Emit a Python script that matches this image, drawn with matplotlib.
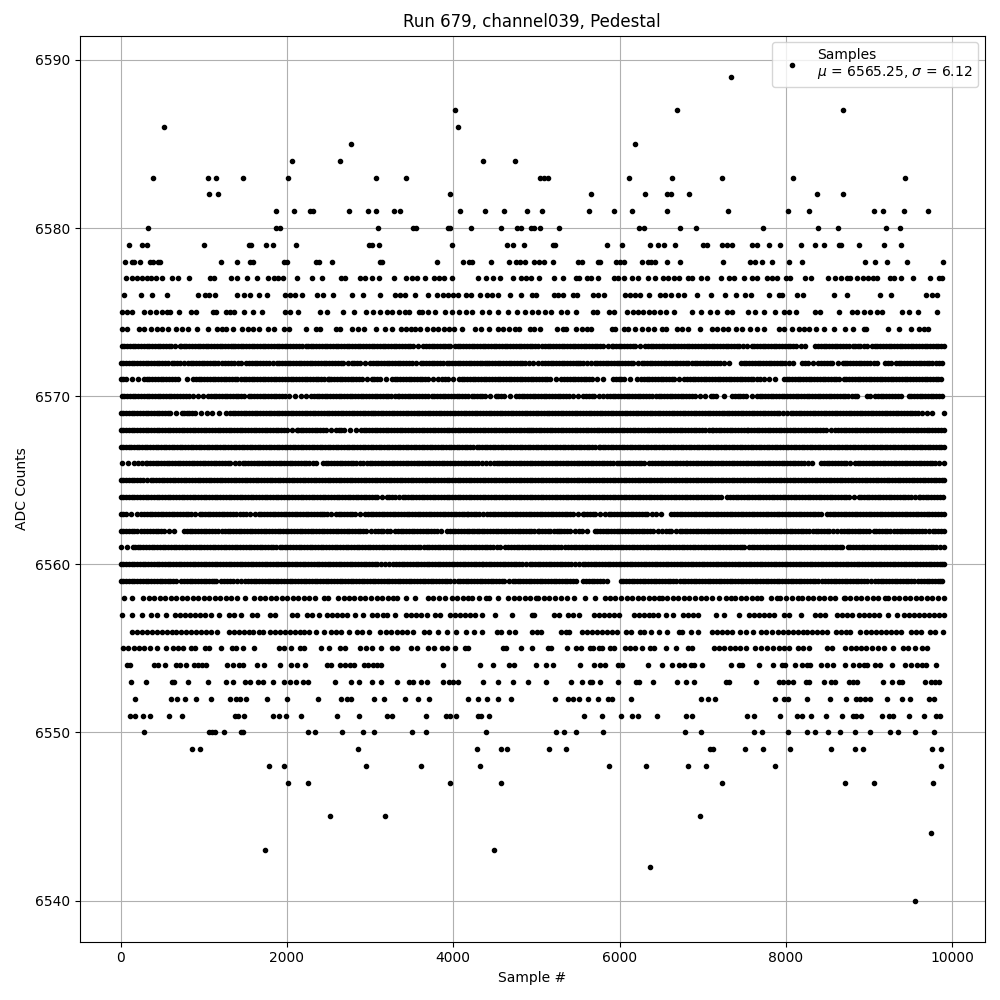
import numpy as np
import matplotlib
matplotlib.use("Agg")
import matplotlib.pyplot as plt

title = "Run 679, channel039, Pedestal"
x_label = "Sample #"
y_label = "ADC Counts"
legend_label = "Samples\n$\\mu$ = 6565.25, $\\sigma$ = 6.12"

s6540 = [9552]
s6542 = [6360]
s6543 = [1736, 4484]
s6544 = [9744]
s6545 = [2516, 3176, 6972]
s6547 = [2012, 2252, 3956, 4568, 7236, 8712, 9060, 9768]
s6548 = [1784, 1964, 2948, 3608, 4316, 5868, 6312, 6828, 7044, 7872, 9864]
s6549 = [860, 956, 2852, 4280, 4580, 4652, 5148, 5352, 7092, 7128, 7512, 7728, 8052, 8544, 8832, 8928, 9756, 9864]
s6550 = [284, 1064, 1100, 1136, 1244, 1448, 1472, 2252, 2336, 2660, 2912, 3044, 3500, 3668, 4388, 5232, 5328, 5472, 5796, 6792, 6984, 7620, 7716, 8028, 8256, 8352, 8508, 8652, 8832, 9012, 9252, 9348, 9552, 9780]
s6551 = [116, 176, 272, 356, 584, 740, 1376, 1412, 1484, 1832, 1904, 1988, 2168, 2600, 2864, 3200, 3260, 3668, 3908, 3956, 4028, 4292, 4328, 4424, 5568, 5784, 6012, 6144, 6216, 6456, 6804, 6876, 7536, 7620, 7932, 8136, 8196, 8304, 8484, 8676, 8808, 8844, 8904, 9156, 9240, 9288, 9480, 9660, 9804, 9852]
s6552 = [176, 608, 680, 776, 908, 1088, 1316, 1388, 1436, 1508, 1760, 2000, 2372, 2648, 2720, 2768, 3044, 3164, 3416, 3572, 3704, 4172, 4292, 4400, 4532, 4700, 5220, 5376, 5436, 5508, 5616, 5736, 5856, 5904, 6132, 6984, 7068, 7152, 7872, 7980, 8028, 8256, 8532, 8724, 8844, 8892, 8952, 9012, 9216, 9396, 9492, 9720, 9780]
s6553 = [128, 308, 620, 644, 812, 1052, 1268, 1352, 1496, 1556, 1652, 1712, 1832, 1964, 2036, 2108, 2192, 2252, 2576, 2768, 2864, 3020, 3128, 3320, 3464, 3512, 3608, 3680, 3872, 3944, 3992, 4052, 4352, 4532, 4724, 4904, 5112, 5412, 5544, 5640, 5664, 5760, 5976, 6192, 6228, 6408, 6696, 6804, 6900, 7284, 7320, 7644, 7920, 7968, 8028, 8088, 8244, 8280, 8460, 8544, 8592, 8760, 8808, 8856, 9168, 9276, 9360, 9396, 9672, 9744, 9792, 9840]
s6554 = [80, 116, 404, 452, 536, 668, 716, 788, 884, 932, 980, 1028, 1280, 1352, 1424, 1472, 1640, 1724, 1916, 2048, 2120, 2216, 2480, 2528, 2636, 2696, 2756, 2804, 2924, 2972, 3032, 3080, 3128, 3872, 4316, 4472, 4676, 4736, 5000, 5112, 5196, 5520, 5688, 5760, 5820, 5976, 6024, 6336, 6516, 6636, 6720, 6780, 6864, 6900, 6996, 7344, 7440, 7476, 7680, 7848, 7956, 7992, 8112, 8196, 8256, 8292, 8424, 8496, 8568, 8712, 8808, 8880, 8940, 8976, 9072, 9132, 9276, 9432, 9504, 9576, 9636, 9684, 9804]
s6555 = [32, 92, 164, 224, 284, 356, 440, 548, 632, 692, 752, 848, 896, 1016, 1064, 1208, 1340, 1388, 1472, 1604, 1904, 1964, 2048, 2156, 2204, 2408, 2504, 2636, 2696, 2876, 2948, 3020, 3128, 3260, 3320, 3488, 3560, 3692, 3764, 3860, 3920, 4016, 4136, 4172, 4604, 4640, 4820, 4944, 5136, 5172, 5364, 5472, 5532, 5640, 5676, 5748, 5784, 5880, 5928, 6060, 6120, 6180, 6264, 6360, 6420, 6564, 6680, 6828, 6876, 7140, 7200, 7260, 7332, 7392, 7452, 7524, 7632, 7704, 7776, 7848, 7920, 7980, 8040, 8148, 8208, 8280, 8496, 8556, 8712, 8784, 8844, 8904, 8964, 9036, 9108, 9180, 9288, 9408, 9468, 9552, 9636, 9696]
s6556 = [140, 200, 260, 320, 380, 440, 500, 560, 620, 668, 728, 788, 848, 908, 968, 1028, 1088, 1160, 1304, 1364, 1424, 1484, 1544, 1592, 1664, 1712, 1796, 1856, 1916, 1976, 2036, 2096, 2156, 2204, 2264, 2348, 2444, 2528, 2588, 2648, 2744, 2840, 2900, 2984, 3116, 3188, 3248, 3320, 3380, 3440, 3512, 3644, 3704, 3812, 3920, 4028, 4148, 4244, 4340, 4520, 4580, 4676, 4748, 4944, 5004, 5052, 5292, 5352, 5388, 5544, 5604, 5664, 5724, 5784, 5844, 5904, 5964, 6072, 6132, 6240, 6288, 6384, 6480, 6576, 6720, 6756, 6864, 6948, 7116, 7176, 7236, 7296, 7356, 7452, 7524, 7608, 7704, 7764, 7836, 7908, 7968, 8028, 8088, 8148, 8208, 8256, 8316, 8376, 8436, 8496, 8604, 8664, 8724, 8772, 8892, 8964, 9024, 9084, 9144, 9204, 9264, 9324, 9384, 9504, 9564, 9624, 9732, 9792, 9888]
s6557 = [20, 140, 260, 368, 440, 548, 656, 716, 776, 836, 896, 956, 1016, 1088, 1184, 1304, 1364, 1448, 1580, 1640, 1796, 1856, 2060, 2120, 2240, 2300, 2384, 2480, 2540, 2600, 2660, 2720, 2816, 2912, 3020, 3080, 3152, 3200, 3296, 3428, 3488, 3548, 3608, 3680, 3776, 3836, 3956, 4016, 4076, 4136, 4196, 4256, 4340, 4496, 4712, 4952, 4968, 5208, 5268, 5376, 5436, 5508, 5688, 5748, 5808, 5868, 5928, 5988, 6168, 6228, 6288, 6348, 6408, 6468, 6564, 6648, 6768, 6828, 6888, 6948, 7164, 7260, 7440, 7560, 7620, 7680, 7740, 7800, 7860, 7980, 8040, 8184, 8352, 8412, 8472, 8616, 8676, 8736, 8796, 8880, 8940, 9000, 9060, 9120, 9228, 9336, 9420, 9480, 9540, 9600, 9660, 9720, 9780, 9840, 9900]
s6558 = [40, 140, 272, 340, 405, 470, 538, 604, 668, 736, 800, 866, 934, 1000, 1068, 1132, 1200, 1266, 1332, 1398, 1500, 1604, 1670, 1738, 1804, 1870, 1936, 2004, 2070, 2136, 2204, 2270, 2336, 2444, 2492, 2612, 2680, 2744, 2812, 2878, 2944, 3010, 3078, 3144, 3210, 3280, 3320, 3428, 3540, 3692, 3760, 3830, 3900, 3980, 4048, 4114, 4180, 4220, 4304, 4388, 4428, 4540, 4660, 4728, 4794, 4860, 4926, 4990, 5020, 5088, 5156, 5224, 5290, 5364, 5456, 5588, 5708, 5828, 5884, 5950, 6016, 6084, 6150, 6216, 6284, 6350, 6416, 6476, 6508, 6574, 6640, 6708, 6774, 6840, 6906, 6974, 7040, 7106, 7196, 7276, 7336, 7388, 7456, 7524, 7590, 7656, 7704, 7816, 7896, 7924, 8004, 8076, 8148, 8196, 8264, 8330, 8396, 8464, 8530, 8596, 8696, 8708, 8776, 8842, 8908, 8976, 9042, 9108, 9196, 9228, 9296, 9362, 9428, 9496, 9562, 9628, 9696, 9762, 9828, 9900]
s6559 = [0, 66, 132, 198, 266, 332, 398, 468, 500, 566, 632, 720, 764, 830, 896, 964, 1030, 1096, 1148, 1212, 1280, 1346, 1452, 1500, 1566, 1632, 1700, 1766, 1832, 1898, 1966, 2032, 2098, 2166, 2232, 2298, 2364, 2432, 2498, 2564, 2632, 2698, 2764, 2830, 2898, 2964, 3030, 3098, 3164, 3230, 3296, 3364, 3430, 3496, 3564, 3630, 3696, 3762, 3830, 3896, 3962, 4060, 4084, 4150, 4216, 4284, 4350, 4416, 4482, 4550, 4616, 4720, 4740, 4806, 4872, 4940, 5006, 5072, 5140, 5206, 5272, 5338, 5406, 5476, 5564, 5630, 5696, 5764, 5844, 6012, 6078, 6144, 6212, 6278, 6344, 6410, 6478, 6544, 6610, 6676, 6724, 6790, 6858, 6924, 6990, 7058, 7124, 7190, 7256, 7324, 7390, 7456, 7524, 7590, 7656, 7722, 7790, 7856, 7922, 7990, 8056, 8122, 8188, 8256, 8322, 8388, 8476, 8508, 8574, 8640, 8708, 8774, 8840, 8906, 8974, 9076, 9108, 9174, 9240, 9308, 9374, 9440, 9506, 9588, 9628, 9694, 9760, 9828, 9876]
s6560 = [0, 66, 132, 198, 264, 332, 398, 464, 530, 598, 664, 730, 798, 864, 930, 996, 1064, 1130, 1196, 1264, 1330, 1396, 1462, 1530, 1596, 1662, 1730, 1796, 1862, 1928, 1996, 2062, 2120, 2156, 2222, 2288, 2356, 2422, 2488, 2556, 2622, 2688, 2754, 2822, 2888, 2954, 3022, 3088, 3180, 3228, 3280, 3346, 3412, 3480, 3546, 3612, 3680, 3746, 3812, 3878, 3946, 4012, 4078, 4146, 4212, 4278, 4340, 4360, 4426, 4492, 4560, 4626, 4692, 4760, 4826, 4920, 4948, 5014, 5080, 5148, 5214, 5280, 5346, 5414, 5516, 5556, 5622, 5688, 5756, 5822, 5888, 5956, 6022, 6088, 6154, 6222, 6288, 6354, 6422, 6488, 6554, 6620, 6688, 6754, 6820, 6888, 6954, 7020, 7086, 7154, 7220, 7286, 7354, 7420, 7486, 7552, 7620, 7686, 7752, 7820, 7886, 7952, 8018, 8086, 8152, 8218, 8286, 8352, 8418, 8484, 8552, 8618, 8684, 8752, 8818, 8884, 8950, 9018, 9084, 9150, 9218, 9284, 9350, 9416, 9484, 9550, 9616, 9684, 9750, 9816, 9882, 9900]
s6561 = [0, 148, 172, 238, 304, 372, 438, 504, 570, 638, 704, 770, 828, 872, 938, 1004, 1072, 1138, 1204, 1270, 1338, 1404, 1470, 1538, 1604, 1670, 1736, 1804, 1870, 1912, 1940, 2006, 2072, 2140, 2206, 2272, 2340, 2406, 2472, 2538, 2606, 2672, 2738, 2806, 2872, 2938, 3004, 3072, 3138, 3204, 3272, 3338, 3404, 3470, 3538, 3604, 3680, 3712, 3778, 3844, 3912, 3978, 4044, 4112, 4178, 4244, 4310, 4378, 4444, 4520, 4560, 4628, 4694, 4762, 4828, 4894, 4960, 5028, 5094, 5160, 5228, 5296, 5348, 5414, 5480, 5548, 5614, 5680, 5746, 5814, 5880, 5946, 6014, 6080, 6146, 6212, 6280, 6346, 6412, 6480, 6546, 6612, 6678, 6746, 6812, 6878, 6946, 7012, 7078, 7144, 7212, 7278, 7344, 7412, 7476, 7496, 7556, 7622, 7688, 7756, 7822, 7888, 7954, 8022, 8088, 8154, 8222, 8288, 8354, 8420, 8488, 8554, 8620, 8676, 8744, 8810, 8876, 8944, 9010, 9076, 9142, 9210, 9276, 9342, 9410, 9476, 9542, 9608, 9676, 9742, 9808, 9896]
s6562 = [0, 66, 132, 198, 280, 320, 386, 452, 520, 640, 764, 830, 896, 964, 1030, 1096, 1172, 1220, 1286, 1352, 1420, 1486, 1552, 1618, 1686, 1752, 1818, 1886, 1952, 2018, 2084, 2152, 2218, 2284, 2352, 2418, 2484, 2550, 2618, 2684, 2750, 2818, 2884, 2950, 3060, 3092, 3158, 3240, 3300, 3366, 3432, 3500, 3566, 3632, 3700, 3766, 3852, 3920, 3960, 4026, 4092, 4160, 4226, 4280, 4308, 4374, 4440, 4508, 4574, 4640, 4706, 4774, 4840, 4906, 4974, 5016, 5036, 5102, 5168, 5244, 5268, 5334, 5400, 5516, 5544, 5610, 5708, 5732, 5798, 5864, 5932, 5998, 6064, 6132, 6198, 6264, 6330, 6398, 6516, 6556, 6622, 6724, 6748, 6814, 6880, 6948, 7014, 7080, 7146, 7214, 7280, 7346, 7414, 7480, 7546, 7612, 7680, 7746, 7812, 7880, 7946, 8012, 8078, 8146, 8212, 8284, 8324, 8390, 8456, 8524, 8616, 8664, 8730, 8796, 8864, 8930, 9004, 9056, 9122, 9188, 9256, 9336, 9368, 9434, 9500, 9568, 9634, 9724, 9764, 9830, 9900]
s6563 = [0, 66, 192, 248, 314, 380, 448, 514, 580, 646, 714, 780, 846, 948, 980, 1046, 1112, 1180, 1246, 1312, 1388, 1436, 1502, 1620, 1660, 1726, 1792, 1860, 1926, 1992, 2060, 2126, 2192, 2258, 2326, 2400, 2416, 2482, 2588, 2620, 2686, 2752, 2820, 2940, 2972, 3038, 3104, 3172, 3238, 3304, 3372, 3438, 3504, 3570, 3638, 3704, 3770, 3838, 3904, 3970, 4036, 4104, 4160, 4180, 4246, 4312, 4400, 4440, 4506, 4572, 4640, 4706, 4772, 4838, 4906, 4972, 5038, 5106, 5172, 5238, 5304, 5372, 5438, 5556, 5576, 5642, 5708, 5828, 5868, 5934, 6000, 6068, 6134, 6200, 6268, 6334, 6444, 6496, 6624, 6690, 6756, 6824, 6890, 6956, 7022, 7090, 7156, 7222, 7290, 7356, 7422, 7488, 7556, 7622, 7688, 7756, 7822, 7888, 7954, 8022, 8088, 8154, 8222, 8288, 8354, 8428, 8496, 8562, 8628, 8696, 8762, 8828, 8894, 8962, 9028, 9094, 9162, 9228, 9294, 9360, 9428, 9494, 9560, 9628, 9694, 9760, 9826, 9900]
s6564 = [0, 66, 132, 198, 266, 332, 398, 466, 532, 598, 664, 732, 798, 864, 932, 998, 1064, 1130, 1198, 1264, 1330, 1398, 1464, 1530, 1596, 1664, 1730, 1796, 1864, 1930, 1996, 2062, 2130, 2196, 2262, 2330, 2396, 2462, 2528, 2596, 2662, 2728, 2796, 2860, 2888, 2954, 3020, 3088, 3200, 3232, 3298, 3400, 3420, 3486, 3552, 3620, 3686, 3752, 3820, 3886, 3952, 4018, 4086, 4152, 4218, 4286, 4352, 4418, 4484, 4552, 4618, 4684, 4752, 4818, 4884, 4950, 5018, 5084, 5150, 5218, 5284, 5350, 5416, 5484, 5550, 5616, 5684, 5750, 5816, 5882, 5950, 6016, 6082, 6150, 6216, 6282, 6348, 6416, 6482, 6548, 6616, 6682, 6748, 6814, 6882, 6948, 7014, 7082, 7148, 7216, 7296, 7362, 7428, 7496, 7562, 7628, 7694, 7762, 7828, 7894, 7962, 8028, 8094, 8160, 8228, 8294, 8360, 8428, 8494, 8560, 8626, 8694, 8760, 8876, 8904, 8970, 9036, 9104, 9170, 9236, 9304, 9370, 9436, 9502, 9596, 9616, 9682, 9748, 9816, 9884]
s6565 = [0, 66, 132, 198, 264, 360, 392, 458, 524, 592, 658, 724, 790, 858, 924, 990, 1058, 1124, 1190, 1256, 1324, 1390, 1456, 1524, 1590, 1656, 1722, 1790, 1856, 1922, 1990, 2056, 2122, 2188, 2256, 2322, 2388, 2456, 2522, 2588, 2654, 2722, 2788, 2854, 2922, 2988, 3054, 3120, 3188, 3254, 3320, 3388, 3454, 3520, 3586, 3654, 3720, 3786, 3854, 3920, 3986, 4052, 4120, 4186, 4252, 4320, 4386, 4452, 4518, 4586, 4652, 4718, 4786, 4852, 4918, 4984, 5052, 5118, 5184, 5252, 5318, 5384, 5450, 5518, 5584, 5650, 5718, 5784, 5850, 5916, 5984, 6050, 6116, 6184, 6250, 6316, 6382, 6450, 6516, 6582, 6650, 6716, 6782, 6848, 6916, 6982, 7048, 7116, 7182, 7248, 7314, 7382, 7448, 7514, 7582, 7648, 7714, 7780, 7848, 7914, 7980, 8048, 8114, 8180, 8246, 8314, 8380, 8446, 8514, 8580, 8646, 8712, 8780, 8846, 8912, 8980, 9046, 9112, 9178, 9246, 9312, 9378, 9446, 9512, 9578, 9644, 9712, 9778, 9844, 9900]
s6566 = [20, 160, 212, 300, 320, 386, 452, 520, 586, 652, 718, 786, 852, 918, 986, 1052, 1118, 1184, 1252, 1318, 1420, 1468, 1534, 1600, 1668, 1734, 1800, 1868, 1934, 2000, 2066, 2134, 2200, 2266, 2348, 2432, 2498, 2564, 2632, 2698, 2764, 2830, 2920, 2960, 3026, 3092, 3160, 3226, 3292, 3360, 3426, 3492, 3558, 3626, 3692, 3758, 3826, 3892, 3958, 4024, 4092, 4158, 4224, 4292, 4388, 4440, 4492, 4520, 4586, 4652, 4720, 4786, 4852, 4918, 4986, 5052, 5118, 5186, 5252, 5318, 5384, 5452, 5518, 5584, 5652, 5718, 5784, 5850, 5924, 5964, 6030, 6096, 6164, 6230, 6296, 6356, 6396, 6462, 6528, 6596, 6662, 6728, 6804, 6816, 6882, 6948, 7016, 7082, 7148, 7214, 7282, 7348, 7414, 7482, 7548, 7614, 7680, 7748, 7814, 7880, 7948, 8014, 8080, 8146, 8214, 8316, 8424, 8490, 8556, 8624, 8696, 8724, 8828, 8864, 8930, 8996, 9064, 9130, 9196, 9262, 9330, 9396, 9462, 9530, 9596, 9662, 9728, 9796, 9896]
s6567 = [0, 64, 128, 194, 258, 322, 388, 452, 516, 582, 646, 710, 776, 840, 904, 970, 1034, 1098, 1164, 1228, 1292, 1358, 1422, 1486, 1552, 1616, 1680, 1746, 1810, 1874, 1940, 2004, 2068, 2134, 2198, 2262, 2328, 2392, 2456, 2522, 2586, 2650, 2716, 2780, 2844, 2910, 2974, 3038, 3104, 3168, 3232, 3298, 3362, 3426, 3492, 3556, 3620, 3686, 3750, 3814, 3880, 3944, 4008, 4074, 4138, 4202, 4280, 4312, 4378, 4442, 4506, 4572, 4636, 4700, 4766, 4830, 4894, 4960, 5024, 5088, 5154, 5218, 5282, 5348, 5412, 5476, 5542, 5606, 5670, 5748, 5764, 5830, 5894, 5958, 6024, 6088, 6152, 6218, 6282, 6346, 6412, 6476, 6540, 6606, 6670, 6734, 6800, 6864, 6928, 6994, 7058, 7122, 7188, 7252, 7316, 7382, 7446, 7510, 7576, 7640, 7704, 7770, 7834, 7898, 7964, 8028, 8092, 8158, 8222, 8286, 8352, 8416, 8480, 8546, 8610, 8674, 8740, 8804, 8868, 8934, 8998, 9062, 9136, 9156, 9222, 9286, 9350, 9416, 9480, 9544, 9610, 9674, 9738, 9804, 9868, 9900]
s6568 = [0, 66, 132, 200, 266, 332, 398, 466, 532, 598, 666, 732, 798, 864, 932, 998, 1064, 1132, 1198, 1264, 1330, 1398, 1464, 1530, 1598, 1664, 1730, 1796, 1864, 1930, 1996, 2120, 2132, 2198, 2264, 2332, 2398, 2464, 2588, 2620, 2686, 2828, 2888, 2954, 3020, 3088, 3154, 3220, 3286, 3354, 3420, 3486, 3554, 3620, 3686, 3752, 3820, 3886, 3952, 4020, 4086, 4152, 4218, 4286, 4352, 4418, 4486, 4552, 4618, 4684, 4752, 4818, 4884, 4940, 4960, 5026, 5092, 5160, 5226, 5292, 5358, 5426, 5492, 5558, 5626, 5692, 5758, 5824, 5892, 5958, 6024, 6092, 6158, 6224, 6290, 6358, 6424, 6490, 6558, 6624, 6690, 6756, 6824, 6890, 6956, 7024, 7116, 7124, 7190, 7256, 7324, 7390, 7456, 7536, 7548, 7614, 7680, 7748, 7814, 7880, 7946, 8014, 8080, 8146, 8214, 8280, 8346, 8412, 8480, 8596, 8628, 8694, 8760, 8828, 8894, 8960, 9026, 9094, 9160, 9226, 9294, 9360, 9426, 9492, 9560, 9626, 9692, 9760, 9826, 9900]
s6569 = [0, 66, 132, 198, 266, 332, 398, 466, 532, 598, 732, 760, 826, 892, 1040, 1100, 1268, 1312, 1378, 1444, 1512, 1578, 1644, 1712, 1778, 1844, 1910, 1978, 2044, 2110, 2178, 2244, 2310, 2376, 2444, 2510, 2576, 2644, 2710, 2776, 2842, 2910, 2976, 3040, 3060, 3126, 3192, 3260, 3326, 3392, 3460, 3526, 3592, 3658, 3726, 3792, 3858, 3926, 3992, 4058, 4124, 4192, 4258, 4324, 4392, 4458, 4524, 4590, 4658, 4724, 4790, 4858, 4924, 4990, 5056, 5124, 5190, 5256, 5324, 5396, 5428, 5494, 5560, 5628, 5694, 5760, 5826, 5894, 5960, 6026, 6094, 6160, 6226, 6292, 6360, 6426, 6492, 6560, 6626, 6692, 6758, 6826, 6892, 6958, 7026, 7092, 7158, 7236, 7256, 7322, 7388, 7456, 7522, 7588, 7654, 7722, 7788, 7854, 7922, 8016, 8056, 8122, 8188, 8256, 8322, 8388, 8454, 8522, 8588, 8654, 8722, 8788, 8854, 8920, 8988, 9054, 9120, 9188, 9254, 9320, 9386, 9454, 9520, 9586, 9696, 9756, 9896]
s6570 = [12, 78, 144, 212, 278, 344, 412, 478, 544, 610, 678, 744, 820, 868, 1052, 1084, 1150, 1216, 1284, 1350, 1416, 1484, 1540, 1606, 1672, 1740, 1806, 1872, 1938, 2020, 2100, 2228, 2292, 2360, 2388, 2454, 2520, 2588, 2654, 2720, 2786, 2854, 2920, 2986, 3054, 3120, 3186, 3252, 3340, 3352, 3418, 3484, 3552, 3618, 3700, 3740, 3806, 3872, 3940, 4006, 4072, 4138, 4220, 4252, 4318, 4384, 4508, 4540, 4606, 4760, 4788, 4854, 4920, 4988, 5054, 5120, 5186, 5254, 5320, 5386, 5496, 5564, 5630, 5696, 5804, 5852, 5918, 5984, 6052, 6118, 6184, 6250, 6318, 6388, 6436, 6502, 6568, 6636, 6702, 6768, 6834, 6902, 7028, 7096, 7162, 7356, 7388, 7454, 7520, 7656, 7684, 7750, 7816, 7884, 7950, 8016, 8082, 8150, 8216, 8282, 8350, 8416, 8482, 8548, 8616, 8682, 8748, 8836, 8856, 8976, 9016, 9076, 9108, 9174, 9240, 9308, 9380, 9476, 9542, 9608, 9676, 9742, 9808, 9876]
s6571 = [0, 66, 212, 280, 346, 412, 480, 546, 612, 692, 800, 872, 938, 1004, 1072, 1138, 1204, 1270, 1338, 1404, 1480, 1508, 1574, 1640, 1708, 1774, 1840, 1906, 1972, 2012, 2078, 2144, 2212, 2278, 2344, 2410, 2492, 2500, 2566, 2632, 2700, 2766, 2832, 2898, 3028, 3052, 3118, 3268, 3296, 3362, 3428, 3496, 3562, 3628, 3694, 3820, 3868, 3934, 4068, 4100, 4166, 4232, 4300, 4366, 4432, 4498, 4566, 4632, 4698, 4766, 4832, 4898, 4964, 5032, 5098, 5164, 5296, 5336, 5402, 5468, 5536, 5602, 5668, 5796, 5924, 5990, 6056, 6204, 6260, 6326, 6392, 6460, 6526, 6592, 6658, 6780, 6812, 6878, 6944, 7012, 7078, 7144, 7212, 7278, 7344, 7410, 7478, 7544, 7610, 7688, 7736, 7868, 7976, 8042, 8108, 8176, 8242, 8308, 8374, 8442, 8508, 8574, 8636, 8696, 8762, 8828, 8896, 8962, 9028, 9096, 9162, 9228, 9294, 9362, 9428, 9494, 9560, 9636, 9668, 9734, 9800, 9860]
s6572 = [0, 66, 132, 200, 266, 332, 400, 466, 532, 612, 644, 710, 804, 840, 906, 972, 1040, 1106, 1172, 1260, 1292, 1358, 1452, 1512, 1578, 1644, 1712, 1778, 1880, 1908, 1974, 2040, 2108, 2174, 2240, 2306, 2374, 2440, 2506, 2580, 2612, 2678, 2788, 2812, 2878, 3000, 3032, 3098, 3164, 3232, 3298, 3364, 3430, 3498, 3612, 3640, 3706, 3772, 3840, 3920, 3986, 4052, 4120, 4186, 4252, 4318, 4380, 4400, 4466, 4532, 4600, 4666, 4732, 4798, 4866, 4960, 5020, 5070, 5136, 5204, 5270, 5336, 5402, 5476, 5496, 5562, 5656, 5700, 5766, 5832, 5900, 5966, 6032, 6098, 6166, 6268, 6296, 6362, 6428, 6496, 6562, 6628, 6694, 6762, 6828, 6908, 6936, 7002, 7068, 7136, 7202, 7316, 7460, 7526, 7592, 7660, 7726, 7792, 7858, 7926, 7992, 8084, 8196, 8262, 8384, 8428, 8494, 8560, 8684, 8708, 8774, 8840, 8908, 8974, 9056, 9096, 9196, 9268, 9324, 9390, 9456, 9524, 9596, 9628, 9694, 9760, 9844, 9876]
s6573 = [12, 78, 144, 212, 278, 344, 412, 478, 544, 610, 708, 724, 790, 856, 924, 990, 1056, 1122, 1190, 1256, 1322, 1380, 1408, 1474, 1540, 1608, 1674, 1740, 1806, 1874, 1940, 2006, 2074, 2140, 2228, 2252, 2318, 2384, 2452, 2518, 2584, 2650, 2718, 2784, 2850, 2918, 2984, 3050, 3116, 3184, 3250, 3316, 3384, 3450, 3520, 3572, 3640, 3706, 3772, 3840, 3906, 3960, 4020, 4086, 4152, 4220, 4286, 4352, 4418, 4486, 4552, 4618, 4686, 4752, 4818, 4884, 4952, 5020, 5104, 5136, 5202, 5268, 5336, 5402, 5468, 5534, 5602, 5668, 5734, 5802, 5908, 5924, 5990, 6056, 6124, 6190, 6308, 6340, 6406, 6472, 6540, 6606, 6672, 6738, 6806, 6872, 6938, 7016, 7042, 7108, 7174, 7242, 7308, 7374, 7440, 7536, 7588, 7654, 7720, 7788, 7854, 7920, 7986, 8054, 8120, 8236, 8348, 8388, 8454, 8520, 8588, 8654, 8720, 8804, 8830, 8896, 8976, 9036, 9102, 9168, 9236, 9302, 9368, 9434, 9502, 9568, 9634, 9702, 9768, 9834, 9896]
s6574 = [20, 80, 220, 284, 368, 440, 500, 572, 668, 740, 812, 920, 1052, 1160, 1220, 1268, 1352, 1460, 1532, 1592, 1664, 1772, 1844, 1964, 2024, 2228, 2348, 2396, 2588, 2636, 2780, 2852, 2924, 3068, 3176, 3260, 3368, 3428, 3488, 3536, 3596, 3680, 3752, 3812, 3884, 3944, 4004, 4100, 4256, 4328, 4424, 4532, 4604, 4676, 4748, 4796, 4928, 4968, 5040, 5244, 5316, 5352, 5472, 5544, 5604, 5652, 5904, 5940, 6048, 6096, 6180, 6264, 6336, 6420, 6516, 6564, 6696, 6756, 6828, 6972, 7116, 7176, 7248, 7308, 7404, 7476, 7572, 7656, 7740, 7920, 7980, 8076, 8160, 8220, 8280, 8364, 8460, 8580, 8712, 8808, 8940, 8964, 9228, 9360, 9504, 9600, 9660, 9708]
s6575 = [20, 80, 140, 284, 356, 428, 500, 560, 596, 704, 848, 908, 1112, 1148, 1268, 1316, 1364, 1484, 1592, 1700, 1976, 2036, 2132, 2396, 2480, 2672, 2804, 2948, 3032, 3116, 3200, 3260, 3344, 3416, 3464, 3584, 3620, 3692, 3776, 3896, 3980, 4064, 4148, 4220, 4340, 4424, 4532, 4664, 4772, 4868, 4944, 5016, 5100, 5172, 5292, 5364, 5472, 5676, 5724, 5868, 5928, 6084, 6156, 6216, 6276, 6348, 6420, 6492, 6564, 6660, 6876, 6984, 7092, 7176, 7296, 7356, 7548, 7632, 7740, 7872, 7980, 8040, 8124, 8352, 8412, 8640, 8796, 8856, 8940, 9012, 9096, 9156, 9396, 9480, 9588, 9816]
s6576 = [44, 248, 380, 552, 932, 1016, 1064, 1136, 1400, 1484, 1556, 1664, 1760, 1976, 2036, 2100, 2180, 2360, 2432, 2552, 2780, 2912, 3116, 3296, 3356, 3416, 3536, 3692, 3800, 3872, 3932, 3992, 4052, 4148, 4208, 4316, 4400, 4460, 4532, 4688, 4820, 4944, 4992, 5208, 5256, 5316, 5436, 5484, 5676, 5736, 5808, 6060, 6120, 6180, 6240, 6348, 6492, 6552, 6624, 6708, 6780, 6936, 7104, 7272, 7404, 7512, 7584, 7800, 7920, 7956, 8136, 8208, 8580, 8736, 9132, 9264, 9684, 9756, 9816]
s6577 = [68, 140, 200, 260, 320, 368, 428, 500, 620, 692, 824, 1076, 1124, 1328, 1400, 1520, 1640, 1772, 1844, 1892, 1952, 2120, 2300, 2420, 2648, 2696, 2876, 2940, 3020, 3104, 3284, 3428, 3500, 3560, 3656, 3764, 3824, 3884, 3980, 4292, 4388, 4472, 4556, 4724, 4820, 4880, 4936, 5028, 5208, 5316, 5472, 5508, 5604, 5652, 5740, 5928, 5976, 6048, 6144, 6216, 6336, 6432, 6528, 6588, 6660, 6720, 6828, 6876, 6984, 7056, 7224, 7320, 7380, 7500, 7596, 7656, 7776, 7836, 7896, 8004, 8052, 8232, 8304, 8508, 8592, 8664, 8736, 8772, 8856, 8928, 8988, 9048, 9096, 9252, 9300, 9384, 9528, 9732, 9840, 9876]
s6578 = [56, 140, 164, 236, 356, 392, 452, 476, 1208, 1396, 1552, 1588, 1964, 2000, 2348, 2384, 2540, 3116, 3140, 3800, 4112, 4184, 4220, 4448, 4676, 4760, 4808, 4868, 4968, 5028, 5088, 5196, 5496, 5544, 5736, 5760, 5952, 6000, 6048, 6264, 6336, 6384, 6432, 6576, 6732, 7248, 7572, 7632, 7716, 7836, 8040, 8196, 8952, 9072, 9216, 9456, 9888]
s6579 = [104, 260, 320, 1004, 1540, 1564, 1748, 1832, 2108, 2984, 3020, 3104, 3980, 4652, 4724, 4856, 5204, 5228, 5844, 6024, 6360, 6468, 6540, 6672, 7008, 7056, 7236, 7296, 7356, 7596, 7656, 7800, 7932, 8184, 8352, 8460, 8640, 8664, 8880, 9180, 9384]
s6580 = [332, 1868, 1916, 3092, 3512, 3548, 3940, 3964, 4208, 4580, 4768, 4816, 4936, 4972, 5040, 5268, 6228, 6288, 6732, 6924, 7728, 8388, 8628, 9204, 9372]
s6581 = [1868, 2084, 2276, 2312, 2744, 2972, 3068, 3284, 3356, 4076, 4376, 4616, 4892, 5064, 5628, 5928, 6144, 6576, 7308, 8028, 8280, 9060, 9168, 9420, 9708]
s6582 = [1064, 1172, 3956, 5652, 6300, 6576, 6624, 6840, 8376, 8688]
s6583 = [392, 1052, 1148, 1472, 2012, 3068, 3428, 5048, 5096, 5144, 6108, 6636, 7236, 8088, 9432]
s6584 = [2060, 2636, 4352, 4748]
s6585 = [2768, 6180]
s6586 = [524, 4052]
s6587 = [4016, 6696, 8688]
s6589 = [7344]

# Further samples inside the stretches where the dots of a level merge into a solid run
f6559 = [33, 99, 165, 232, 299, 365, 432, 533, 599, 665, 797, 863, 930, 997, 1063, 1122, 1246, 1313, 1400, 1533, 1599, 1666, 1733, 1799, 1865, 1932, 1999, 2065, 2132, 2199, 2265, 2331, 2398, 2465, 2531, 2598, 2665, 2731, 2797, 2864, 2931, 2997, 3064, 3131, 3197, 3263, 3330, 3397, 3463, 3530, 3597, 3663, 3729, 3796, 3863, 3929, 4010, 4117, 4183, 4250, 4317, 4383, 4449, 4516, 4583, 4668, 4773, 4839, 4906, 4973, 5039, 5106, 5173, 5239, 5305, 5372, 5440, 5597, 5663, 5730, 5804, 6045, 6111, 6178, 6245, 6311, 6377, 6444, 6511, 6577, 6643, 6757, 6824, 6891, 6957, 7024, 7091, 7157, 7223, 7290, 7357, 7423, 7490, 7557, 7623, 7689, 7756, 7823, 7889, 7956, 8023, 8089, 8155, 8222, 8289, 8355, 8432, 8541, 8607, 8674, 8741, 8807, 8873, 8940, 9025, 9141, 9207, 9274, 9341, 9407, 9473, 9547, 9661, 9727, 9794, 9852]
f6560 = [33, 99, 165, 231, 298, 365, 431, 497, 564, 631, 697, 764, 831, 897, 963, 1030, 1097, 1163, 1230, 1297, 1363, 1429, 1496, 1563, 1629, 1696, 1763, 1829, 1895, 1962, 2029, 2091, 2189, 2255, 2322, 2389, 2455, 2522, 2589, 2655, 2721, 2788, 2855, 2921, 2988, 3055, 3134, 3313, 3379, 3446, 3513, 3579, 3646, 3713, 3779, 3845, 3912, 3979, 4045, 4112, 4179, 4245, 4309, 4393, 4459, 4526, 4593, 4659, 4726, 4793, 4873, 4981, 5047, 5114, 5181, 5247, 5313, 5380, 5465, 5589, 5655, 5722, 5789, 5855, 5922, 5989, 6055, 6121, 6188, 6255, 6321, 6388, 6455, 6521, 6587, 6654, 6721, 6787, 6854, 6921, 6987, 7053, 7120, 7187, 7253, 7320, 7387, 7453, 7519, 7586, 7653, 7719, 7786, 7853, 7919, 7985, 8052, 8119, 8185, 8252, 8319, 8385, 8451, 8518, 8585, 8651, 8718, 8785, 8851, 8917, 8984, 9051, 9117, 9184, 9251, 9317, 9383, 9450, 9517, 9583, 9650, 9717, 9783, 9849]
f6561 = [74, 205, 271, 338, 405, 471, 537, 604, 671, 737, 799, 905, 971, 1038, 1105, 1171, 1237, 1304, 1371, 1437, 1504, 1571, 1637, 1703, 1770, 1837, 1973, 2039, 2106, 2173, 2239, 2306, 2373, 2439, 2505, 2572, 2639, 2705, 2772, 2839, 2905, 2971, 3038, 3105, 3171, 3238, 3305, 3371, 3437, 3504, 3571, 3642, 3745, 3811, 3878, 3945, 4011, 4078, 4145, 4211, 4277, 4344, 4411, 4482, 4661, 4728, 4795, 4861, 4927, 4994, 5061, 5127, 5194, 5262, 5381, 5447, 5514, 5581, 5647, 5713, 5780, 5847, 5913, 5980, 6047, 6113, 6179, 6246, 6313, 6379, 6446, 6513, 6579, 6645, 6712, 6779, 6845, 6912, 6979, 7045, 7111, 7178, 7245, 7311, 7378, 7444, 7589, 7655, 7722, 7789, 7855, 7921, 7988, 8055, 8121, 8188, 8255, 8321, 8387, 8454, 8521, 8587, 8648, 8777, 8843, 8910, 8977, 9043, 9109, 9176, 9243, 9309, 9376, 9443, 9509, 9575, 9642, 9709, 9775, 9852]
f6562 = [33, 99, 165, 239, 353, 419, 486, 580, 797, 863, 930, 997, 1063, 1134, 1253, 1319, 1386, 1453, 1519, 1585, 1652, 1719, 1785, 1852, 1919, 1985, 2051, 2118, 2185, 2251, 2318, 2385, 2451, 2517, 2584, 2651, 2717, 2784, 2851, 2917, 3005, 3125, 3199, 3333, 3399, 3466, 3533, 3599, 3666, 3733, 3809, 3993, 4059, 4126, 4193, 4253, 4341, 4407, 4474, 4541, 4607, 4673, 4740, 4807, 4873, 4940, 5069, 5135, 5206, 5301, 5367, 5458, 5765, 5831, 5898, 5965, 6031, 6098, 6165, 6231, 6297, 6364, 6457, 6589, 6673, 6781, 6847, 6914, 6981, 7047, 7113, 7180, 7247, 7313, 7380, 7447, 7513, 7579, 7646, 7713, 7779, 7846, 7913, 7979, 8045, 8112, 8179, 8248, 8357, 8423, 8490, 8570, 8697, 8763, 8830, 8897, 8967, 9089, 9155, 9222, 9296, 9401, 9467, 9534, 9601, 9679, 9797, 9865]
f6563 = [33, 129, 281, 347, 414, 481, 547, 613, 680, 747, 813, 897, 1013, 1079, 1146, 1213, 1279, 1350, 1469, 1561, 1693, 1759, 1826, 1893, 1959, 2026, 2093, 2159, 2225, 2292, 2363, 2449, 2535, 2653, 2719, 2786, 2880, 3005, 3071, 3138, 3205, 3271, 3338, 3405, 3471, 3537, 3604, 3671, 3737, 3804, 3871, 3937, 4003, 4070, 4132, 4213, 4279, 4356, 4473, 4539, 4606, 4673, 4739, 4805, 4872, 4939, 5005, 5072, 5139, 5205, 5271, 5338, 5405, 5497, 5609, 5675, 5768, 5901, 5967, 6034, 6101, 6167, 6234, 6301, 6389, 6657, 6723, 6790, 6857, 6923, 6989, 7056, 7123, 7189, 7256, 7323, 7389, 7455, 7522, 7589, 7655, 7722, 7789, 7855, 7921, 7988, 8055, 8121, 8188, 8255, 8321, 8391, 8529, 8595, 8662, 8729, 8795, 8861, 8928, 8995, 9061, 9128, 9195, 9261, 9327, 9394, 9461, 9527, 9594, 9661, 9727, 9793, 9863]
f6564 = [33, 99, 165, 232, 299, 365, 432, 499, 565, 631, 698, 765, 831, 898, 965, 1031, 1097, 1164, 1231, 1297, 1364, 1431, 1497, 1563, 1630, 1697, 1763, 1830, 1897, 1963, 2029, 2096, 2163, 2229, 2296, 2363, 2429, 2495, 2562, 2629, 2695, 2762, 2828, 2921, 2987, 3054, 3144, 3265, 3349, 3453, 3519, 3586, 3653, 3719, 3786, 3853, 3919, 3985, 4052, 4119, 4185, 4252, 4319, 4385, 4451, 4518, 4585, 4651, 4718, 4785, 4851, 4917, 4984, 5051, 5117, 5184, 5251, 5317, 5383, 5450, 5517, 5583, 5650, 5717, 5783, 5849, 5916, 5983, 6049, 6116, 6183, 6249, 6315, 6382, 6449, 6515, 6582, 6649, 6715, 6781, 6848, 6915, 6981, 7048, 7115, 7182, 7329, 7395, 7462, 7529, 7595, 7661, 7728, 7795, 7861, 7928, 7995, 8061, 8127, 8194, 8261, 8327, 8394, 8461, 8527, 8593, 8660, 8727, 8818, 8937, 9003, 9070, 9137, 9203, 9270, 9337, 9403, 9469, 9549, 9649, 9715, 9782, 9850]
f6565 = [33, 99, 165, 231, 312, 425, 491, 558, 625, 691, 757, 824, 891, 957, 1024, 1091, 1157, 1223, 1290, 1357, 1423, 1490, 1557, 1623, 1689, 1756, 1823, 1889, 1956, 2023, 2089, 2155, 2222, 2289, 2355, 2422, 2489, 2555, 2621, 2688, 2755, 2821, 2888, 2955, 3021, 3087, 3154, 3221, 3287, 3354, 3421, 3487, 3553, 3620, 3687, 3753, 3820, 3887, 3953, 4019, 4086, 4153, 4219, 4286, 4353, 4419, 4485, 4552, 4619, 4685, 4752, 4819, 4885, 4951, 5018, 5085, 5151, 5218, 5285, 5351, 5417, 5484, 5551, 5617, 5684, 5751, 5817, 5883, 5950, 6017, 6083, 6150, 6217, 6283, 6349, 6416, 6483, 6549, 6616, 6683, 6749, 6815, 6882, 6949, 7015, 7082, 7149, 7215, 7281, 7348, 7415, 7481, 7548, 7615, 7681, 7747, 7814, 7881, 7947, 8014, 8081, 8147, 8213, 8280, 8347, 8413, 8480, 8547, 8613, 8679, 8746, 8813, 8879, 8946, 9013, 9079, 9145, 9212, 9279, 9345, 9412, 9479, 9545, 9611, 9678, 9745, 9811, 9872]
f6566 = [90, 256, 353, 419, 486, 553, 619, 685, 752, 819, 885, 952, 1019, 1085, 1151, 1218, 1285, 1369, 1501, 1567, 1634, 1701, 1767, 1834, 1901, 1967, 2033, 2100, 2167, 2233, 2307, 2465, 2531, 2598, 2665, 2731, 2797, 2875, 2993, 3059, 3126, 3193, 3259, 3326, 3393, 3459, 3525, 3592, 3659, 3725, 3792, 3859, 3925, 3991, 4058, 4125, 4191, 4258, 4340, 4553, 4619, 4686, 4753, 4819, 4885, 4952, 5019, 5085, 5152, 5219, 5285, 5351, 5418, 5485, 5551, 5618, 5685, 5751, 5817, 5887, 5997, 6063, 6130, 6197, 6263, 6429, 6495, 6562, 6629, 6695, 6766, 6849, 6915, 6982, 7049, 7115, 7181, 7248, 7315, 7381, 7448, 7515, 7581, 7647, 7714, 7781, 7847, 7914, 7981, 8047, 8113, 8180, 8265, 8457, 8523, 8590, 8660, 8776, 8897, 8963, 9030, 9097, 9163, 9229, 9296, 9363, 9429, 9496, 9563, 9629, 9695, 9762, 9846]
f6567 = [32, 96, 161, 226, 290, 355, 420, 484, 549, 614, 678, 743, 808, 872, 937, 1002, 1066, 1131, 1196, 1260, 1325, 1390, 1454, 1519, 1584, 1648, 1713, 1778, 1842, 1907, 1972, 2036, 2101, 2166, 2230, 2295, 2360, 2424, 2489, 2554, 2618, 2683, 2748, 2812, 2877, 2942, 3006, 3071, 3136, 3200, 3265, 3330, 3394, 3459, 3524, 3588, 3653, 3718, 3782, 3847, 3912, 3976, 4041, 4106, 4170, 4241, 4345, 4410, 4474, 4539, 4604, 4668, 4733, 4798, 4862, 4927, 4992, 5056, 5121, 5186, 5250, 5315, 5380, 5444, 5509, 5574, 5638, 5709, 5797, 5862, 5926, 5991, 6056, 6120, 6185, 6250, 6314, 6379, 6444, 6508, 6573, 6638, 6702, 6767, 6832, 6896, 6961, 7026, 7090, 7155, 7220, 7284, 7349, 7414, 7478, 7543, 7608, 7672, 7737, 7802, 7866, 7931, 7996, 8060, 8125, 8190, 8254, 8319, 8384, 8448, 8513, 8578, 8642, 8707, 8772, 8836, 8901, 8966, 9030, 9099, 9189, 9254, 9318, 9383, 9448, 9512, 9577, 9642, 9706, 9771, 9836]
f6568 = [33, 99, 166, 233, 299, 365, 432, 499, 565, 632, 699, 765, 831, 898, 965, 1031, 1098, 1165, 1231, 1297, 1364, 1431, 1497, 1564, 1631, 1697, 1763, 1830, 1897, 1963, 2058, 2165, 2231, 2298, 2365, 2431, 2526, 2653, 2757, 2921, 2987, 3054, 3121, 3187, 3253, 3320, 3387, 3453, 3520, 3587, 3653, 3719, 3786, 3853, 3919, 3986, 4053, 4119, 4185, 4252, 4319, 4385, 4452, 4519, 4585, 4651, 4718, 4785, 4851, 4912, 4993, 5059, 5126, 5193, 5259, 5325, 5392, 5459, 5525, 5592, 5659, 5725, 5791, 5858, 5925, 5991, 6058, 6125, 6191, 6257, 6324, 6391, 6457, 6524, 6591, 6657, 6723, 6790, 6857, 6923, 6990, 7070, 7157, 7223, 7290, 7357, 7423, 7496, 7581, 7647, 7714, 7781, 7847, 7913, 7980, 8047, 8113, 8180, 8247, 8313, 8379, 8446, 8538, 8661, 8727, 8794, 8861, 8927, 8993, 9060, 9127, 9193, 9260, 9327, 9393, 9459, 9526, 9593, 9659, 9726, 9793, 9863]
f6569 = [33, 99, 165, 232, 299, 365, 432, 499, 565, 665, 793, 859, 966, 1184, 1345, 1411, 1478, 1545, 1611, 1678, 1745, 1811, 1877, 1944, 2011, 2077, 2144, 2211, 2277, 2343, 2410, 2477, 2543, 2610, 2677, 2743, 2809, 2876, 2943, 3008, 3093, 3159, 3226, 3293, 3359, 3426, 3493, 3559, 3625, 3692, 3759, 3825, 3892, 3959, 4025, 4091, 4158, 4225, 4291, 4358, 4425, 4491, 4557, 4624, 4691, 4757, 4824, 4891, 4957, 5023, 5090, 5157, 5223, 5290, 5360, 5461, 5527, 5594, 5661, 5727, 5793, 5860, 5927, 5993, 6060, 6127, 6193, 6259, 6326, 6393, 6459, 6526, 6593, 6659, 6725, 6792, 6859, 6925, 6992, 7059, 7125, 7197, 7289, 7355, 7422, 7489, 7555, 7621, 7688, 7755, 7821, 7888, 7969, 8089, 8155, 8222, 8289, 8355, 8421, 8488, 8555, 8621, 8688, 8755, 8821, 8887, 8954, 9021, 9087, 9154, 9221, 9287, 9353, 9420, 9487, 9553, 9641]
f6570 = [45, 111, 178, 245, 311, 378, 445, 511, 577, 644, 711, 782, 930, 990, 1117, 1183, 1250, 1317, 1383, 1450, 1573, 1639, 1706, 1773, 1839, 1905, 1979, 2164, 2326, 2421, 2487, 2554, 2621, 2687, 2753, 2820, 2887, 2953, 3020, 3087, 3153, 3219, 3296, 3385, 3451, 3518, 3585, 3659, 3773, 3839, 3906, 3973, 4039, 4105, 4179, 4285, 4351, 4446, 4573, 4683, 4821, 4887, 4954, 5021, 5087, 5153, 5220, 5287, 5353, 5441, 5597, 5663, 5750, 5885, 5951, 6018, 6085, 6151, 6217, 6284, 6353, 6469, 6535, 6602, 6669, 6735, 6801, 6868, 6965, 7129, 7259, 7421, 7487, 7588, 7717, 7783, 7850, 7917, 7983, 8049, 8116, 8183, 8249, 8316, 8383, 8449, 8515, 8582, 8649, 8715, 8792, 9141, 9207, 9274, 9344, 9509, 9575, 9642, 9709, 9775, 9842]
f6571 = [33, 139, 313, 379, 446, 513, 579, 652, 905, 971, 1038, 1105, 1171, 1237, 1304, 1371, 1442, 1541, 1607, 1674, 1741, 1807, 1873, 1939, 2045, 2111, 2178, 2245, 2311, 2377, 2451, 2533, 2599, 2666, 2733, 2799, 2865, 2963, 3085, 3193, 3329, 3395, 3462, 3529, 3595, 3661, 3757, 3901, 4001, 4133, 4199, 4266, 4333, 4399, 4465, 4532, 4599, 4665, 4732, 4799, 4865, 4931, 4998, 5065, 5131, 5230, 5369, 5435, 5502, 5569, 5635, 5732, 5957, 6023, 6130, 6293, 6359, 6426, 6493, 6559, 6625, 6719, 6845, 6911, 6978, 7045, 7111, 7178, 7245, 7311, 7377, 7444, 7511, 7577, 7649, 7802, 8009, 8075, 8142, 8209, 8275, 8341, 8408, 8475, 8541, 8605, 8729, 8795, 8862, 8929, 8995, 9062, 9129, 9195, 9261, 9328, 9395, 9461, 9527, 9598, 9701, 9767, 9830]
f6572 = [33, 99, 166, 233, 299, 366, 433, 499, 572, 677, 757, 873, 939, 1006, 1073, 1139, 1216, 1325, 1405, 1545, 1611, 1678, 1745, 1829, 1941, 2007, 2074, 2141, 2207, 2273, 2340, 2407, 2473, 2543, 2645, 2733, 2845, 2939, 3065, 3131, 3198, 3265, 3331, 3397, 3464, 3555, 3673, 3739, 3806, 3880, 3953, 4019, 4086, 4153, 4219, 4285, 4349, 4433, 4499, 4566, 4633, 4699, 4765, 4832, 4913, 5103, 5170, 5237, 5303, 5369, 5439, 5529, 5609, 5733, 5799, 5866, 5933, 5999, 6065, 6132, 6217, 6329, 6395, 6462, 6529, 6595, 6661, 6728, 6795, 6868, 6969, 7035, 7102, 7169, 7259, 7493, 7559, 7626, 7693, 7759, 7825, 7892, 7959, 8038, 8229, 8323, 8461, 8527, 8622, 8741, 8807, 8874, 8941, 9015, 9232, 9357, 9423, 9490, 9560, 9661, 9727, 9802]
f6573 = [45, 111, 178, 245, 311, 378, 445, 511, 577, 659, 757, 823, 890, 957, 1023, 1089, 1156, 1223, 1289, 1351, 1441, 1507, 1574, 1641, 1707, 1773, 1840, 1907, 1973, 2040, 2107, 2184, 2285, 2351, 2418, 2485, 2551, 2617, 2684, 2751, 2817, 2884, 2951, 3017, 3083, 3150, 3217, 3283, 3350, 3417, 3485, 3673, 3739, 3806, 3873, 3933, 4053, 4119, 4186, 4253, 4319, 4385, 4452, 4519, 4585, 4652, 4719, 4785, 4851, 4918, 4986, 5062, 5169, 5235, 5302, 5369, 5435, 5501, 5568, 5635, 5701, 5768, 5855, 5957, 6023, 6090, 6157, 6249, 6373, 6439, 6506, 6573, 6639, 6705, 6772, 6839, 6905, 6977, 7075, 7141, 7208, 7275, 7341, 7407, 7488, 7621, 7687, 7754, 7821, 7887, 7953, 8020, 8087, 8178, 8421, 8487, 8554, 8621, 8687, 8762, 8863, 8936, 9069, 9135, 9202, 9269, 9335, 9401, 9468, 9535, 9601, 9668, 9735, 9801, 9865]

levels = {6540: s6540, 6542: s6542, 6543: s6543, 6544: s6544, 6545: s6545, 6547: s6547,
          6548: s6548, 6549: s6549, 6550: s6550, 6551: s6551, 6552: s6552, 6553: s6553,
          6554: s6554, 6555: s6555, 6556: s6556, 6557: s6557, 6558: s6558,
          6559: s6559 + f6559, 6560: s6560 + f6560, 6561: s6561 + f6561, 6562: s6562 + f6562,
          6563: s6563 + f6563, 6564: s6564 + f6564, 6565: s6565 + f6565, 6566: s6566 + f6566,
          6567: s6567 + f6567, 6568: s6568 + f6568, 6569: s6569 + f6569, 6570: s6570 + f6570,
          6571: s6571 + f6571, 6572: s6572 + f6572, 6573: s6573 + f6573, 6574: s6574,
          6575: s6575, 6576: s6576, 6577: s6577, 6578: s6578, 6579: s6579, 6580: s6580,
          6581: s6581, 6582: s6582, 6583: s6583, 6584: s6584, 6585: s6585, 6586: s6586,
          6587: s6587, 6589: s6589}

xs = np.concatenate([np.asarray(v, dtype=float) for v in levels.values()])
ys = np.concatenate([np.full(len(v), k, dtype=float) for k, v in levels.items()])

fig, ax = plt.subplots(figsize=(10, 10), dpi=100)
ax.plot(xs, ys, "k.", label=legend_label)
ax.set_title(title)
ax.set_xlabel(x_label)
ax.set_ylabel(y_label)
ax.grid(True)
ax.legend(loc="upper right")
fig.tight_layout()
fig.subplots_adjust(top=0.9645)
fig.savefig("out.png", dpi=100)
